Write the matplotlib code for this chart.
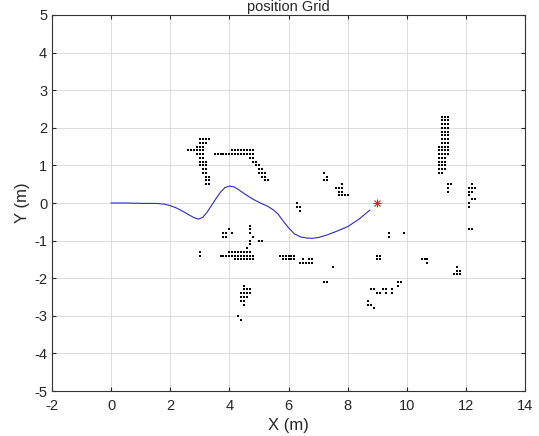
import matplotlib.pyplot as plt
import numpy as np

plt.rcParams['font.family'] = ['Liberation Sans', 'DejaVu Sans']
plt.rcParams['axes.unicode_minus'] = False

# planned path
path_x = [0, 0.5, 1.0, 1.5, 1.8, 2.0, 2.2, 2.4, 2.6, 2.8, 2.95, 3.1, 3.25, 3.4, 3.55,
          3.7, 3.85, 4.0, 4.15, 4.3, 4.5, 4.8, 5.05, 5.3, 5.5, 5.65, 5.8, 6.0, 6.2,
          6.4, 6.6, 6.8, 7.0, 7.3, 7.6, 8.0, 8.4, 8.75]
path_y = [0, 0, -0.01, -0.01, -0.03, -0.07, -0.13, -0.21, -0.3, -0.39, -0.43, -0.38,
          -0.24, -0.06, 0.12, 0.29, 0.41, 0.45, 0.43, 0.36, 0.25, 0.1, 0.0, -0.09,
          -0.19, -0.3, -0.46, -0.66, -0.82, -0.9, -0.93, -0.94, -0.92, -0.85, -0.76,
          -0.63, -0.42, -0.19]

goal = (9.0, 0.0)

# occupied cells, row y -> list of x
obstacle_rows = {
    1.7: [3.0, 3.1, 3.2, 3.3],
    1.6: [3.0, 3.1, 3.2],
    1.5: [2.9, 3.0, 3.1],
    1.4: [2.6, 2.7, 2.8, 2.9, 3.0, 3.1, 4.1, 4.2, 4.3, 4.4, 4.5, 4.6, 4.7, 4.8],
    1.3: [2.9, 3.0, 3.1, 3.5, 3.6, 3.7, 3.8, 3.9, 4.0, 4.1, 4.2, 4.3, 4.4, 4.5, 4.6, 4.7, 4.8],
    1.2: [3.0, 3.1, 4.7, 4.8],
    1.1: [3.0, 3.1, 3.2, 4.8, 4.9],
    1.0: [3.0, 3.1, 3.2, 4.9, 5.0],
    0.9: [3.1, 3.2, 5.0, 5.1],
    0.8: [3.1, 3.2, 5.0, 5.1, 5.2, 7.2],
    0.7: [3.2, 3.3, 5.1, 5.2, 7.3],
    0.6: [3.2, 3.3, 5.2, 5.3, 7.2, 7.3],
    0.5: [3.2, 3.3, 7.8, 11.4, 11.5, 12.2],
    0.4: [7.6, 7.7, 7.8, 11.4, 12.1, 12.2, 12.3],
    0.3: [7.7, 7.8, 11.4, 12.1, 12.2],
    0.2: [7.7, 7.8, 7.9, 8.0, 12.1],
    0.1: [12.2, 12.3],
    0.0: [6.3, 12.1],
    -0.1: [6.3, 6.4, 12.1],
    -0.2: [6.4],
    -0.6: [4.7],
    -0.7: [4.0, 4.7, 12.1, 12.2],
    -0.8: [3.8, 3.9, 4.1, 4.7, 9.4, 9.9],
    -0.9: [3.8, 3.9, 4.8, 9.4],
    -1.0: [4.7, 5.0, 5.1],
    -1.1: [4.7],
    -1.2: [4.6],
    -1.3: [3.0, 4.0, 4.1, 4.2, 4.3, 4.4, 4.5, 4.6, 4.7],
    -1.4: [3.0, 3.7, 3.8, 3.9, 4.0, 4.1, 4.2, 4.3, 4.4, 4.5, 4.6, 4.7, 4.8,
           5.7, 5.8, 5.9, 6.0, 6.1, 6.2, 9.0, 9.1],
    -1.5: [4.2, 4.3, 4.4, 4.5, 4.6, 4.7, 4.8, 5.8, 5.9, 6.0, 6.1, 6.2, 6.5, 6.7, 6.8,
           9.0, 9.1, 10.5, 10.6, 10.7],
    -1.6: [6.4, 6.5, 6.6, 6.7, 6.8, 10.7],
    -1.7: [7.5, 11.7],
    -1.8: [11.7, 11.8],
    -1.9: [11.6, 11.7, 11.8],
    -2.1: [7.2, 7.3, 9.7, 9.8],
    -2.2: [4.5, 9.7],
    -2.3: [4.5, 4.6, 4.7, 8.8, 8.9, 9.2, 9.3, 9.5],
    -2.4: [4.4, 4.5, 4.6, 4.7, 9.0, 9.1, 9.3, 9.5],
    -2.5: [4.4, 4.5, 4.6],
    -2.6: [4.4, 4.5, 8.7],
    -2.7: [4.5, 8.7, 8.8],
    -2.8: [8.9],
    -3.0: [4.3],
    -3.1: [4.4],
}

# tall wall near x = 11.3
wall_rows = {
    2.3: [11.2, 11.3, 11.4], 2.2: [11.2, 11.3, 11.4], 2.1: [11.2, 11.3, 11.4],
    2.0: [11.2, 11.3, 11.4], 1.9: [11.2, 11.3, 11.4], 1.8: [11.2, 11.3, 11.4],
    1.7: [11.2, 11.3, 11.4], 1.6: [11.2, 11.3, 11.4], 1.5: [11.1, 11.2, 11.3, 11.4],
    1.4: [11.1, 11.2, 11.3, 11.4], 1.3: [11.1, 11.2, 11.3, 11.4], 1.2: [11.1, 11.2, 11.3],
    1.1: [11.1, 11.2, 11.3], 1.0: [11.1, 11.2, 11.3], 0.9: [11.1, 11.2, 11.3],
    0.8: [11.1, 11.2],
}

obs_x, obs_y = [], []
for rows in (obstacle_rows, wall_rows):
    for y, xs in rows.items():
        obs_x += xs
        obs_y += [y] * len(xs)

fig = plt.figure(figsize=(5.39, 4.36), dpi=100)
ax = fig.add_axes([0.0965, 0.1032, 0.8776, 0.8624])

ax.plot(obs_x, obs_y, 's', color='k', markersize=1.7, markeredgewidth=0)
ax.plot(path_x, path_y, '-', color='#2a2ad0', linewidth=0.8)
# matlab-style asterisk
ax.plot(goal[0], goal[1], '+', color='#e02020', markersize=6, markeredgewidth=0.8)
ax.plot(goal[0], goal[1], 'x', color='#e02020', markersize=4.5, markeredgewidth=0.8)

ax.set_xlim(-2, 14)
ax.set_ylim(-5, 5)
ax.set_xticks(np.arange(-2, 15, 2))
ax.set_yticks(np.arange(-5, 6, 1))
ax.grid(True, color='#dcdcdc', linewidth=0.7)
ax.set_axisbelow(True)
ax.tick_params(direction='in', length=3, labelsize=10.5, colors='#262626',
               top=True, right=True)
ax.tick_params(axis='x', pad=6)
for s in ax.spines.values():
    s.set_color('#333333')
    s.set_linewidth(0.8)

ax.set_xlabel('X (m)', fontsize=12, color='#262626', labelpad=3)
ax.set_ylabel('Y (m)', fontsize=12, color='#262626', labelpad=3)
ax.set_title('position Grid', fontsize=10.5, color='#262626', pad=3)

fig.savefig('out.png', dpi=100)
